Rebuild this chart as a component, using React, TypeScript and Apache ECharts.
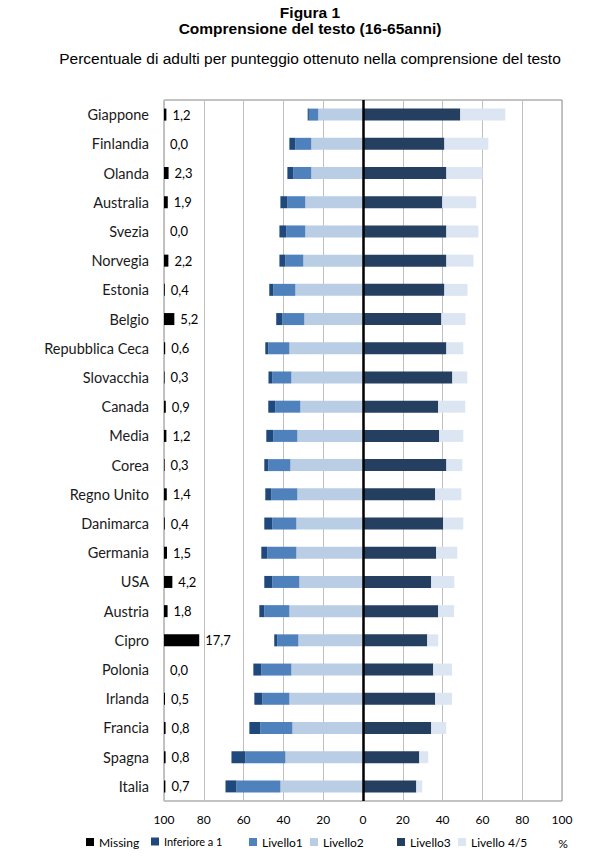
import React, { useEffect, useRef } from "react";
import * as echarts from "echarts";

const categories = [
  "Giappone", "Finlandia", "Olanda", "Australia", "Svezia", "Norvegia",
  "Estonia", "Belgio", "Repubblica Ceca", "Slovacchia", "Canada", "Media",
  "Corea", "Regno Unito", "Danimarca", "Germania", "USA", "Austria",
  "Cipro", "Polonia", "Irlanda", "Francia", "Spagna", "Italia",
];

const missing = [1.2, 0.0, 2.3, 1.9, 0.0, 2.2, 0.4, 5.2, 0.6, 0.3, 0.9, 1.2, 0.3, 1.4, 0.4, 1.5, 4.2, 1.8, 17.7, 0.0, 0.5, 0.8, 0.8, 0.7];
const inferiore1 = [0.6, 3.0, 3.0, 3.5, 3.5, 3.0, 2.0, 3.0, 1.5, 2.0, 3.5, 3.5, 2.0, 3.0, 4.0, 3.0, 4.0, 2.5, 1.5, 4.0, 4.0, 5.5, 7.0, 5.5];
const livello1 = [4.7, 8.0, 9.0, 9.0, 9.5, 9.0, 11.1, 11.1, 10.6, 9.5, 12.6, 12.1, 11.1, 13.1, 12.1, 14.6, 13.6, 12.6, 10.6, 15.1, 13.6, 16.1, 20.1, 22.1];
const livello2 = [22.5, 26.0, 26.0, 29.0, 29.0, 30.0, 34.0, 29.5, 37.0, 36.0, 31.5, 33.0, 36.5, 33.0, 33.5, 33.5, 32.0, 37.0, 32.5, 36.0, 37.0, 35.5, 39.0, 41.5];
const livello3 = [48.9, 40.9, 41.9, 39.8, 41.9, 41.9, 40.9, 39.4, 41.9, 44.9, 37.8, 38.3, 41.9, 36.3, 40.3, 36.8, 34.3, 37.8, 32.3, 35.3, 36.3, 34.3, 28.3, 26.8];
const livello45 = [22.6, 22.1, 18.2, 17.1, 16.1, 13.6, 11.6, 12.1, 8.5, 7.5, 13.6, 12.1, 8.0, 13.1, 10.1, 10.6, 11.6, 8.0, 5.5, 9.5, 8.5, 7.5, 4.5, 3.0];

const COLORS = {
  missing: "#000000",
  inf1: "#1F497D",
  l1: "#4F81BD",
  l2: "#B9CDE5",
  l3: "#243F60",
  l45: "#DCE6F2",
};

const FONT = "Lato, 'Noto Sans', sans-serif";
const TITLE_FONT = "'Liberation Sans', Arial, sans-serif";

export default function App() {
  const ref = useRef<HTMLDivElement>(null);

  useEffect(() => {
    if (!ref.current) return;
    const chart = echarts.init(ref.current, null, { renderer: "svg" });
    const neg = (arr: number[]) => arr.map((v) => -v);

    const legendItem = (name: string, left: number, fontSize = 12) => ({
      data: [name],
      left,
      top: 836,
      icon: "rect",
      itemWidth: 8,
      itemHeight: 8,
      padding: 0,
      textStyle: { fontFamily: FONT, fontSize, color: "#000" },
    });

    const option: any = {
      animation: false,
      backgroundColor: "#fff",
      graphic: [
        {
          type: "text",
          x: 310,
          y: 12,
          style: {
            text: "Figura 1",
            fontFamily: TITLE_FONT,
            fontWeight: "bold",
            fontSize: 15.5,
            fill: "#000",
            textAlign: "center",
            textVerticalAlign: "middle",
          },
        },
        {
          type: "text",
          x: 310,
          y: 28,
          style: {
            text: "Comprensione del testo (16-65anni)",
            fontFamily: TITLE_FONT,
            fontWeight: "bold",
            fontSize: 15.5,
            fill: "#000",
            textAlign: "center",
            textVerticalAlign: "middle",
          },
        },
        {
          type: "text",
          x: 310,
          y: 58,
          style: {
            text: "Percentuale di adulti per punteggio ottenuto nella comprensione del testo",
            fontFamily: TITLE_FONT,
            fontSize: 15.5,
            fill: "#000",
            textAlign: "center",
            textVerticalAlign: "middle",
          },
        },
        {
          type: "text",
          x: 563,
          y: 843,
          style: {
            text: "%",
            fontFamily: FONT,
            fontSize: 12,
            fill: "#000",
            textAlign: "center",
            textVerticalAlign: "middle",
          },
        },
      ],
      legend: [
        legendItem("Missing", 86),
        legendItem("Inferiore a 1", 151, 11),
        legendItem("Livello1", 249),
        legendItem("Livello2", 310),
        legendItem("Livello3", 397),
        legendItem("Livello 4/5", 458),
      ],
      grid: {
        left: 164,
        right: 51,
        top: 100,
        bottom: 64,
        show: true,
        borderColor: "#868686",
        borderWidth: 1,
        backgroundColor: "transparent",
      },
      xAxis: [
        {
          type: "value",
          min: -100,
          max: 100,
          interval: 20,
          axisLine: { show: false },
          axisTick: { show: false },
          splitLine: { show: true, lineStyle: { color: "#BFBFBF", width: 1 } },
          axisLabel: {
            fontFamily: FONT,
            fontSize: 12,
            color: "#000",
            margin: 12,
            formatter: (v: number) => String(Math.abs(v)),
          },
        },
        {
          type: "value",
          min: 0,
          max: 200,
          show: false,
        },
      ],
      yAxis: [
        {
          type: "category",
          data: categories,
          inverse: true,
          axisLine: { show: false },
          axisTick: { show: false },
          splitLine: { show: false },
          axisLabel: {
            fontFamily: FONT,
            fontSize: 14.5,
            color: "#1a1a1a",
            margin: 15,
          },
        },
        {
          type: "category",
          data: categories,
          inverse: true,
          show: false,
        },
      ],
      series: [
        {
          name: "Livello2",
          type: "bar",
          stack: "tot",
          barWidth: 12,
          data: neg(livello2),
          itemStyle: { color: COLORS.l2 },
        },
        {
          name: "Livello1",
          type: "bar",
          stack: "tot",
          barWidth: 12,
          data: neg(livello1),
          itemStyle: { color: COLORS.l1 },
        },
        {
          name: "Inferiore a 1",
          type: "bar",
          stack: "tot",
          barWidth: 12,
          data: neg(inferiore1),
          itemStyle: { color: COLORS.inf1 },
        },
        {
          name: "Livello3",
          type: "bar",
          stack: "tot",
          barWidth: 12,
          data: livello3,
          itemStyle: { color: COLORS.l3 },
          markLine: {
            silent: true,
            symbol: ["none", "none"],
            label: { show: false },
            lineStyle: { color: "#000", width: 2.5, type: "solid" },
            data: [{ xAxis: 0 }],
            z: 10,
          },
        },
        {
          name: "Livello 4/5",
          type: "bar",
          stack: "tot",
          barWidth: 12,
          data: livello45,
          itemStyle: { color: COLORS.l45 },
        },
        {
          name: "Missing",
          type: "bar",
          xAxisIndex: 1,
          yAxisIndex: 1,
          barWidth: 12,
          data: missing,
          itemStyle: { color: COLORS.missing },
          label: {
            show: true,
            position: "right",
            distance: 6,
            fontFamily: FONT,
            fontSize: 13,
            color: "#000",
            formatter: (p: any) => Number(p.value).toFixed(1).replace(".", ","),
          },
        },
      ],
    };

    chart.setOption(option);
    return () => chart.dispose();
  }, []);

  return (
    <div
      ref={ref}
      style={{ position: "absolute", left: 0, top: 0, width: 613, height: 865 }}
    />
  );
}
